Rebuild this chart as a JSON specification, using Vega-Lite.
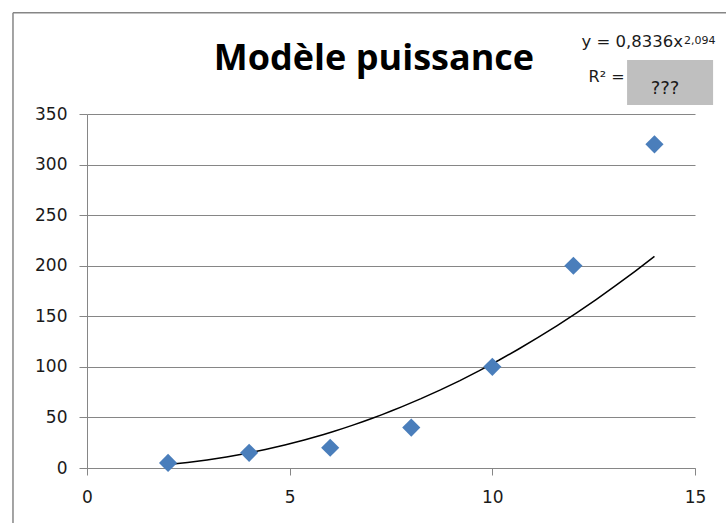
{
  "$schema": "https://vega.github.io/schema/vega-lite/v6.json",
  "description": "Modèle puissance",
  "width": 608,
  "height": 354,
  "autosize": {"type": "none"},
  "padding": {"left": 87, "top": 114, "right": 31, "bottom": 55},
  "background": "white",
  "config": {
    "view": {"stroke": null},
    "font": "DejaVu Sans"
  },
  "datasets": {
    "points": [
      {"x": 2, "y": 5},
      {"x": 4, "y": 15},
      {"x": 6, "y": 20},
      {"x": 8, "y": 40},
      {"x": 10, "y": 100},
      {"x": 12, "y": 200},
      {"x": 14, "y": 320}
    ]
  },
  "layer": [
    {
      "data": {"name": "points"},
      "transform": [
        {"regression": "y", "on": "x", "method": "pow", "extent": [2, 14]}
      ],
      "mark": {"type": "line", "color": "#000000", "strokeWidth": 1.5, "clip": false},
      "encoding": {
        "x": {
          "field": "x", "type": "quantitative",
          "scale": {"domain": [0, 15], "nice": false, "zero": false},
          "axis": {
            "values": [0, 5, 10, 15],
            "title": null,
            "grid": false,
            "domainColor": "#868686",
            "tickColor": "#868686",
            "tickSize": 7,
            "labelPadding": 14,
            "labelFont": "DejaVu Sans",
            "labelFontSize": 17,
            "labelColor": "#1a1a1a",
            "labelFlush": false
          }
        },
        "y": {
          "field": "y", "type": "quantitative",
          "scale": {"domain": [0, 350], "nice": false},
          "axis": {
            "values": [0, 50, 100, 150, 200, 250, 300, 350],
            "title": null,
            "grid": true,
            "gridColor": "#868686",
            "gridWidth": 1,
            "domainColor": "#868686",
            "tickColor": "#868686",
            "tickSize": 8,
            "labelPadding": 12,
            "labelFont": "DejaVu Sans",
            "labelFontSize": 17,
            "labelColor": "#1a1a1a"
          }
        }
      }
    },
    {
      "data": {"name": "points"},
      "mark": {"type": "point", "shape": "diamond", "filled": true, "size": 330, "color": "#4a7ebb", "opacity": 1, "clip": false},
      "encoding": {
        "x": {"field": "x", "type": "quantitative"},
        "y": {"field": "y", "type": "quantitative"}
      }
    },
    {
      "data": {"values": [{"t": "Modèle puissance"}]},
      "mark": {"type": "text", "align": "center", "baseline": "alphabetic", "fontSize": 36, "fontWeight": "bold", "font": "Open Sans", "color": "#000000", "clip": false},
      "encoding": {
        "x": {"datum": 7.08, "type": "quantitative"},
        "y": {"datum": 393.5, "type": "quantitative"},
        "text": {"field": "t"}
      }
    },
    {
      "data": {"values": [{"label": "R² box"}]},
      "mark": {"type": "rect", "color": "#bfbfbf", "clip": false},
      "encoding": {
        "x": {"datum": 13.324, "type": "quantitative"},
        "x2": {"datum": 15.446},
        "y": {"datum": 403.4, "type": "quantitative"},
        "y2": {"datum": 358.9}
      }
    },
    {
      "data": {"values": [{"t": "y = 0,8336x"}]},
      "mark": {"type": "text", "align": "right", "baseline": "alphabetic", "fontSize": 16.5, "font": "DejaVu Sans", "color": "#1a1a1a", "clip": false},
      "encoding": {
        "x": {"datum": 14.704, "type": "quantitative"},
        "y": {"datum": 416.3, "type": "quantitative"},
        "text": {"field": "t"}
      }
    },
    {
      "data": {"values": [{"t": "2,094"}]},
      "mark": {"type": "text", "align": "left", "baseline": "alphabetic", "fontSize": 11, "font": "DejaVu Sans", "color": "#1a1a1a", "clip": false},
      "encoding": {
        "x": {"datum": 14.73, "type": "quantitative"},
        "y": {"datum": 419.2, "type": "quantitative"},
        "text": {"field": "t"}
      }
    },
    {
      "data": {"values": [{"t": "R² ="}]},
      "mark": {"type": "text", "align": "center", "baseline": "alphabetic", "fontSize": 16, "font": "DejaVu Sans", "color": "#1a1a1a", "clip": false},
      "encoding": {
        "x": {"datum": 12.82, "type": "quantitative"},
        "y": {"datum": 381.6, "type": "quantitative"},
        "text": {"field": "t"}
      }
    },
    {
      "data": {"values": [{"t": "???"}]},
      "mark": {"type": "text", "align": "center", "baseline": "alphabetic", "fontSize": 18, "font": "DejaVu Sans", "color": "#1a1a1a", "clip": false},
      "encoding": {
        "x": {"datum": 14.26, "type": "quantitative"},
        "y": {"datum": 369.8, "type": "quantitative"},
        "text": {"field": "t"}
      }
    },
    {
      "data": {"values": [{"part": "chart border left"}]},
      "mark": {"type": "rule", "color": "#868686", "strokeWidth": 1.5, "clip": false},
      "encoding": {
        "x": {"datum": -1.826, "type": "quantitative"},
        "y": {"datum": 450.2, "type": "quantitative"},
        "y2": {"datum": -60}
      }
    },
    {
      "data": {"values": [{"part": "chart border top"}]},
      "mark": {"type": "rule", "color": "#868686", "strokeWidth": 1.5, "clip": false},
      "encoding": {
        "y": {"datum": 450.2, "type": "quantitative"},
        "x": {"datum": -1.826, "type": "quantitative"},
        "x2": {"datum": 18}
      }
    }
  ]
}
